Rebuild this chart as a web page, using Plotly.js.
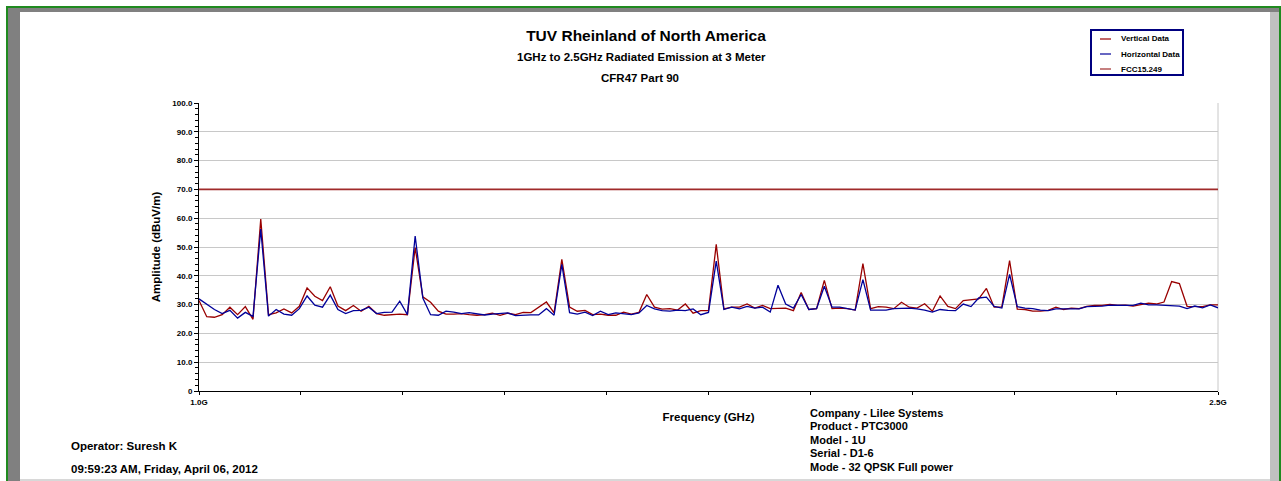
<!DOCTYPE html>
<html>
<head>
<meta charset="utf-8">
<script src="https://cdn.plot.ly/plotly-3.0.1.min.js"></script>
<style>
  html, body { margin: 0; padding: 0; background: #ffffff; }
  #wrap { position: relative; width: 1281px; height: 481px; overflow: hidden; background: #ffffff; }
  #chart { position: absolute; left: 0; top: 0; width: 1281px; height: 481px; }
  .fr { position: absolute; pointer-events: none; }
</style>
</head>
<body>
<div id="wrap">
  <div id="chart"></div>
  <div class="fr" style="left:6px;top:6px;width:1275px;height:2px;background:#1f8a1f;"></div>
  <div class="fr" style="left:6px;top:6px;width:2px;height:475px;background:#1f8a1f;"></div>
  <div class="fr" style="left:1279px;top:6px;width:2px;height:475px;background:#1f8a1f;"></div>
  <div class="fr" style="left:8px;top:8px;width:1271px;height:4px;background:#808080;"></div>
  <div class="fr" style="left:8px;top:8px;width:12px;height:473px;background:#808080;"></div>
  <div class="fr" style="left:1270px;top:12px;width:9px;height:469px;background:#c0c0c0;"></div>
  <div class="fr" style="left:20px;top:479px;width:1250px;height:2px;background:#d8d8d8;"></div>
</div>
<script>
// Frequency points (GHz)
const freqGHz = [
  1.0000,1.0114,1.0227,1.0341,1.0455,1.0568,1.0682,1.0795,1.0909,1.1023,
  1.1136,1.1250,1.1364,1.1477,1.1591,1.1705,1.1818,1.1932,1.2045,1.2159,
  1.2273,1.2386,1.2500,1.2614,1.2727,1.2841,1.2955,1.3068,1.3182,1.3295,
  1.3409,1.3523,1.3636,1.3750,1.3864,1.3977,1.4091,1.4205,1.4318,1.4432,
  1.4545,1.4659,1.4773,1.4886,1.5000,1.5114,1.5227,1.5341,1.5455,1.5568,
  1.5682,1.5795,1.5909,1.6023,1.6136,1.6250,1.6364,1.6477,1.6591,1.6705,
  1.6818,1.6932,1.7045,1.7159,1.7273,1.7386,1.7500,1.7614,1.7727,1.7841,
  1.7955,1.8068,1.8182,1.8295,1.8409,1.8523,1.8636,1.8750,1.8864,1.8977,
  1.9091,1.9205,1.9318,1.9432,1.9545,1.9659,1.9773,1.9886,2.0000,2.0114,
  2.0227,2.0341,2.0455,2.0568,2.0682,2.0795,2.0909,2.1023,2.1136,2.1250,
  2.1364,2.1477,2.1591,2.1705,2.1818,2.1932,2.2045,2.2159,2.2273,2.2386,
  2.2500,2.2614,2.2727,2.2841,2.2955,2.3068,2.3182,2.3295,2.3409,2.3523,
  2.3636,2.3750,2.3864,2.3977,2.4091,2.4205,2.4318,2.4432,2.4545,2.4659,
  2.4773,2.4886,2.5000
];

// Vertical polarisation amplitude (dBuV/m)
const verticalData = [
  31.4,25.8,25.6,26.5,29.1,26.5,29.3,24.9,59.7,26.5,
  27.1,28.5,27.1,29.4,35.8,32.9,31.4,36.2,29.5,27.9,
  29.7,27.7,29.4,26.9,26.3,26.5,26.7,26.5,49.8,32.7,
  30.8,27.7,26.7,26.7,26.9,26.5,26.3,26.5,27.0,26.3,
  27.0,26.5,27.3,27.2,29.0,30.9,27.1,45.7,29.1,27.7,
  28.0,26.5,26.7,26.3,26.3,27.4,26.7,27.3,33.5,29.1,
  28.4,28.6,28.1,30.2,27.0,27.9,27.9,50.9,28.5,29.1,
  29.1,30.2,28.8,29.7,28.6,28.6,28.8,27.9,34.2,28.3,
  28.6,38.4,28.6,28.8,28.6,28.1,44.2,28.6,29.3,29.1,
  28.6,30.8,29.1,28.8,30.3,27.7,33.0,29.4,28.6,31.4,
  31.7,32.0,35.6,29.1,29.2,45.3,28.4,28.3,27.7,27.7,
  28.0,29.1,28.3,28.8,28.6,29.4,29.7,29.7,30.1,29.7,
  29.8,29.5,30.0,30.5,30.2,30.9,38.0,37.3,29.4,29.4,
  29.3,29.9,29.9
];

// Horizontal polarisation amplitude (dBuV/m)
const horizontalData = [
  32.0,30.0,28.3,26.9,28.0,25.3,27.3,25.9,56.2,26.0,
  28.3,26.7,26.3,28.6,33.0,29.8,29.1,33.3,28.3,26.9,
  27.9,28.0,29.1,26.9,27.3,27.4,31.2,26.5,53.8,32.3,
  26.5,26.3,27.7,27.4,26.9,27.2,26.9,26.4,26.7,26.9,
  27.1,26.2,26.4,26.4,26.4,28.6,26.3,44.0,27.2,26.7,
  27.4,26.2,27.7,26.5,27.1,26.9,26.5,27.1,29.7,28.5,
  27.9,27.7,28.1,27.9,28.5,26.5,27.3,45.1,28.3,29.1,
  28.5,29.4,28.8,29.1,27.4,36.7,30.2,28.8,33.5,28.3,
  28.6,36.4,29.1,29.1,28.6,28.1,38.7,28.1,28.1,28.1,
  28.6,28.8,28.8,28.5,28.1,27.4,28.3,28.0,27.9,30.2,
  29.3,32.3,32.6,29.4,28.8,40.5,29.3,28.8,28.6,28.1,
  27.9,28.5,28.5,28.5,28.5,29.3,29.3,29.5,29.8,29.7,
  29.8,29.7,30.5,29.9,29.9,29.8,29.7,29.5,28.6,29.5,
  28.9,29.9,28.9
];

// FCC 15.249 limit line
const limitFreqGHz = [1.0, 2.5];
const limitLevel = [70, 70];

// Series names and colours
const seriesNames = ['Vertical Data', 'Horizontal Data', 'FCC15.249'];
const seriesColors = ['#990000', '#000099', '#a02a2a'];

// Axis ticks
const xTickVals = [1.0,1.15,1.3,1.45,1.6,1.75,1.9,2.05,2.2,2.35,2.5];
const xTickText = ['1.0G','','','','','','','','','','2.5G'];
const yTickVals = [0,10,20,30,40,50,60,70,80,90,100];
const yTickText = ['0','10.0','20.0','30.0','40.0','50.0','60.0','70.0','80.0','90.0','100.0'];

const FONT = 'Liberation Sans, Arial, Helvetica, sans-serif';

const traces = [
  { x: freqGHz, y: verticalData, name: seriesNames[0], type: 'scatter', mode: 'lines',
    line: { color: seriesColors[0], width: 1.3 } },
  { x: freqGHz, y: horizontalData, name: seriesNames[1], type: 'scatter', mode: 'lines',
    line: { color: seriesColors[1], width: 1.3 } },
  { x: limitFreqGHz, y: limitLevel, name: seriesNames[2], type: 'scatter', mode: 'lines',
    line: { color: seriesColors[2], width: 1.6 } }
];

// plot area: x 199..1218, y 103..391 (pixels)
const px = v => (v - 199) / 1019;
const py = v => (391 - v) / 288;

function ann(text, x, y, size, xanchor) {
  return { text: text, xref: 'paper', yref: 'paper', x: px(x), y: py(y),
    xanchor: xanchor || 'center', yanchor: 'middle', showarrow: false,
    font: { family: FONT, size: size, color: '#000', weight: 'bold' } };
}

// legend box drawn as a framed key
const legendShapes = [
  { type: 'rect', xref: 'paper', yref: 'paper', x0: px(1091), x1: px(1183), y0: py(30), y1: py(75),
    line: { color: '#000080', width: 2 }, fillcolor: '#ffffff', layer: 'above' }
];
const legendAnns = [];
seriesNames.forEach((nm, k) => {
  const yy = 39 + k * 15;
  legendShapes.push({ type: 'line', xref: 'paper', yref: 'paper', x0: px(1100), x1: px(1111),
    y0: py(yy), y1: py(yy), line: { color: seriesColors[k], width: 1.2 }, layer: 'above' });
  legendAnns.push(ann(nm, 1119, yy, 8, 'left'));
});

const layout = {
  width: 1281, height: 481, autosize: false,
  margin: { l: 199, r: 63, t: 103, b: 90, pad: 0 },
  paper_bgcolor: 'rgba(0,0,0,0)', plot_bgcolor: '#ffffff',
  font: { family: FONT, color: '#000' },
  title: { text: 'TUV Rheinland of North America', xref: 'paper', x: px(646), xanchor: 'center',
    yref: 'container', y: 1 - 36 / 481, yanchor: 'middle',
    font: { family: FONT, size: 15.5, color: '#000', weight: 'bold' } },
  showlegend: false,
  xaxis: { range: [1.0, 2.5], tickmode: 'array', tickvals: xTickVals, ticktext: xTickText,
    ticks: 'outside', ticklen: 3, tickwidth: 1, tickcolor: '#000',
    showline: true, linecolor: '#000', linewidth: 1, showgrid: false, zeroline: false,
    tickfont: { family: FONT, size: 8, color: '#000', weight: 'bold' },
    title: { text: 'Frequency (GHz)', standoff: 7,
      font: { family: FONT, size: 11.5, color: '#000', weight: 'bold' } } },
  yaxis: { range: [0, 100], tickmode: 'array', tickvals: yTickVals, ticktext: yTickText,
    ticks: 'outside', ticklen: 4, tickwidth: 1, tickcolor: '#000',
    minor: { tickmode: 'linear', tick0: 0, dtick: 2, ticks: 'outside', ticklen: 3, tickcolor: '#000', showgrid: false },
    showline: true, linecolor: '#000', linewidth: 1,
    showgrid: true, gridcolor: '#c8c8c8', gridwidth: 1, zeroline: false,
    tickfont: { family: FONT, size: 8, color: '#000', weight: 'bold' },
    title: { text: 'Amplitude (dBuV/m)', standoff: 9,
      font: { family: FONT, size: 11.5, color: '#000', weight: 'bold' } } },
  xaxis2: { overlaying: 'x', anchor: 'y', range: [1.0, 2.5], tickmode: 'array', tickvals: xTickVals,
    ticks: 'inside', ticklen: 3, tickcolor: '#000', showticklabels: false, showgrid: false,
    zeroline: false, showline: false },
  yaxis2: { overlaying: 'y', anchor: 'x', side: 'left', range: [0, 100], tickmode: 'array', tickvals: yTickVals,
    ticks: 'inside', ticklen: 4, tickcolor: '#000', showticklabels: false, showgrid: false,
    minor: { tickmode: 'linear', tick0: 0, dtick: 2, ticks: 'inside', ticklen: 3, tickcolor: '#000', showgrid: false },
    zeroline: false, showline: false },
  shapes: [
    { type: 'line', xref: 'paper', yref: 'paper', x0: 1, x1: 1, y0: 0, y1: 1,
      line: { color: '#c8c8c8', width: 1 }, layer: 'below' }
  ].concat(legendShapes),
  annotations: [
    ann('1GHz to 2.5GHz Radiated Emission at 3 Meter', 641, 57, 11.5),
    ann('CFR47 Part 90', 640, 78, 11.5),
    ann('Company - Lilee Systems', 808, 412.5, 11, 'left'),
    ann('Product - PTC3000', 808, 426, 11, 'left'),
    ann('Model - 1U', 808, 439.5, 11, 'left'),
    ann('Serial - D1-6', 808, 453, 11, 'left'),
    ann('Mode - 32 QPSK Full power', 808, 466.5, 11, 'left'),
    ann('Operator: Suresh K', 69, 445.5, 11.5, 'left'),
    ann('09:59:23 AM, Friday, April 06, 2012', 69, 469, 11.5, 'left')
  ].concat(legendAnns)
};

Plotly.newPlot('chart', traces, layout, { displayModeBar: false, staticPlot: true });
</script>
</body>
</html>
